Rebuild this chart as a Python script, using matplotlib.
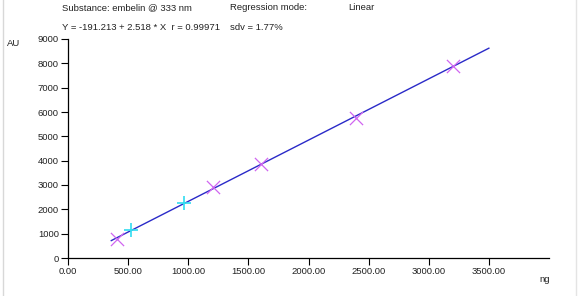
import numpy as np
import matplotlib
matplotlib.use("Agg")
import matplotlib.pyplot as plt
from matplotlib.lines import Line2D

plt.rcParams['font.family'] = ['Liberation Sans', 'DejaVu Sans']

# calibration points (ng, AU)
std_x = [404, 1205, 1606, 2394, 3201]
std_y = [769, 2907, 3865, 5744, 7895]
chk_x = [525, 962]
chk_y = [1151, 2274]

# regression: Y = a + b * X
intercept = -191.213
slope = 2.518
fit_range = [360, 3500]

x_ticks = [0, 500, 1000, 1500, 2000, 2500, 3000, 3500]
y_ticks = [0, 1000, 2000, 3000, 4000, 5000, 6000, 7000, 8000, 9000]

W, H = 580, 296
fig = plt.figure(figsize=(W / 100, H / 100), dpi=100)
ax = fig.add_axes([68 / W, 1 - 258 / H, (549 - 68) / W, (258 - 39) / H])

fx = np.array(fit_range, dtype=float)
ax.plot(fx, intercept + slope * fx, color="#2a2ac8", lw=1.0, zorder=2)
ax.scatter(std_x, std_y, marker="x", s=90, color="#d066f0", linewidths=0.9, zorder=3)
ax.scatter(chk_x, chk_y, marker="+", s=90, color="#30dcf0", linewidths=1.2, zorder=3)

ax.set_xlim(0, 4000)
ax.set_ylim(0, 9000)
ax.set_xticks(x_ticks)
ax.set_xticklabels([f"{v:.2f}" for v in x_ticks])
ax.set_yticks(y_ticks)
ax.set_yticklabels([str(v) for v in y_ticks])
for s in ["top", "right"]:
    ax.spines[s].set_visible(False)
for s in ["left", "bottom"]:
    ax.spines[s].set_linewidth(0.9)
ax.tick_params(direction="out", length=5, width=0.8, labelsize=6.8, pad=1.5,
               labelcolor="#222222")

# header texts
fs = 6.8
tc = "#222222"
fig.text(62 / W, 1 - 8 / H, "Substance: embelin @ 333 nm", fontsize=fs, va="center", color=tc)
fig.text(230 / W, 1 - 8 / H, "Regression mode:", fontsize=fs, va="center", color=tc)
fig.text(348 / W, 1 - 8 / H, "Linear", fontsize=fs, va="center", color=tc)
fig.text(62 / W, 1 - 28 / H, "Y = -191.213 + 2.518 * X  r = 0.99971", fontsize=fs, va="center", color=tc)
fig.text(230 / W, 1 - 28 / H, "sdv = 1.77%", fontsize=fs, va="center", color=tc)
fig.text(14 / W, 1 - 43 / H, "AU", fontsize=fs, ha="center", va="center", color=tc)
fig.text(545 / W, 1 - 280 / H, "ng", fontsize=fs, ha="center", va="center", color=tc)

# faint frame edges
fig.add_artist(Line2D([3 / W, 3 / W], [0.0, 1.0], color="#d8d8d8", lw=1))
fig.add_artist(Line2D([576 / W, 576 / W], [0.0, 1.0], color="#e4e4e4", lw=1))

fig.savefig("out.png", dpi=100)
